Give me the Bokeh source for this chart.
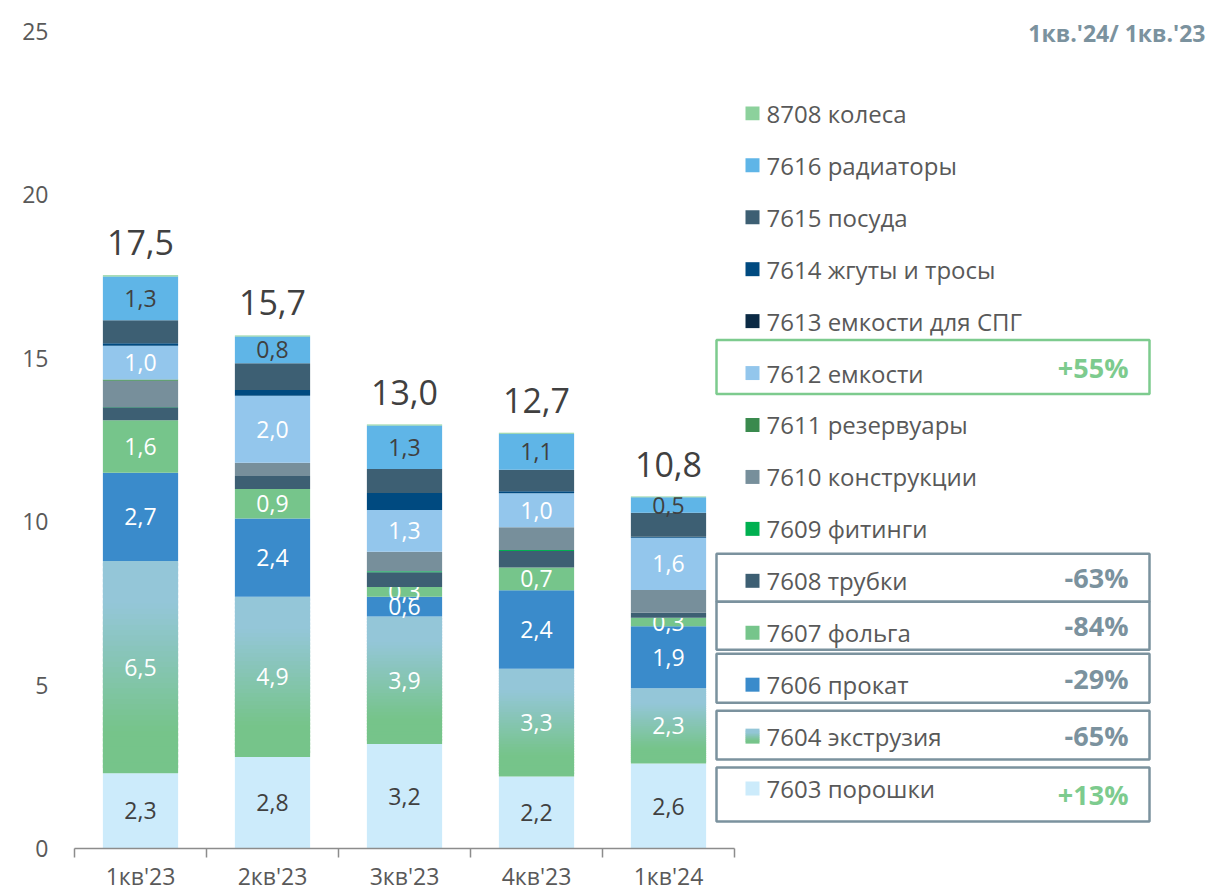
from bokeh.plotting import figure
from bokeh.models import Range1d, FixedTicker, ColumnDataSource
from bokeh.core.properties import value
from bokeh.embed import file_html
from bokeh.resources import INLINE

# ---------------- data ----------------
categories = ["1кв'23", "2кв'23", "3кв'23", "4кв'23", "1кв'24"]

v7603 = [2.3, 2.8, 3.2, 2.2, 2.6]
v7604 = [6.5, 4.9, 3.9, 3.3, 2.3]
v7606 = [2.7, 2.4, 0.6, 2.4, 1.9]
v7607 = [1.6, 0.9, 0.3, 0.7, 0.26]
v7608 = [0.4, 0.4, 0.45, 0.5, 0.15]
v7609 = [0.01, 0.0, 0.03, 0.03, 0.0]
v7610 = [0.8, 0.4, 0.6, 0.7, 0.7]
v7611 = [0.04, 0.0, 0.0, 0.0, 0.0]
v7612 = [1.03, 2.05, 1.28, 1.04, 1.6]
v7613 = [0.0, 0.0, 0.0, 0.0, 0.0]
v7614 = [0.08, 0.18, 0.52, 0.06, 0.03]
v7615 = [0.7, 0.82, 0.73, 0.66, 0.73]
v7616 = [1.34, 0.82, 1.33, 1.1, 0.48]
v8708 = [0.04, 0.03, 0.03, 0.03, 0.02]

series_names = ["7603 порошки", "7604 экструзия", "7606 прокат", "7607 фольга",
                "7608 трубки", "7609 фитинги", "7610 конструкции", "7611 резервуары",
                "7612 емкости", "7613 емкости для СПГ", "7614 жгуты и тросы",
                "7615 посуда", "7616 радиаторы", "8708 колеса"]
series_values = [v7603, v7604, v7606, v7607, v7608, v7609, v7610, v7611,
                 v7612, v7613, v7614, v7615, v7616, v8708]
series_colors = ["#CCEBFB", "#86C4B2", "#3A8BCB", "#76C58B", "#3D5F73", "#00B050",
                 "#778F9B", "#3A8A4E", "#93C6EC", "#0B2A45", "#004A80",
                 "#3D5F73", "#5FB5E7", "#8CD19C"]
label_series = {"7603 порошки": "#404040", "7604 экструзия": "white",
                "7606 прокат": "white", "7607 фольга": "white",
                "7612 емкости": "white", "7616 радиаторы": "#404040"}

grad_top = (0x94, 0xC6, 0xD8)
grad_bottom = (0x76, 0xC4, 0x8A)

# change 1кв.'24 / 1кв.'23
change_series = ["7612 емкости", "7608 трубки", "7607 фольга", "7606 прокат",
                 "7604 экструзия", "7603 порошки"]
change_labels = ["+55%", "-63%", "-84%", "-29%", "-65%", "+13%"]
highlight_box = ["7612 емкости"]

FONT = "Open Sans"
TEXT = "#595959"
GREY = "#7B929E"
GREEN = "#7DCB8E"


def fmt(v):
    return f"{v:.1f}".replace(".", ",")


def grad_color(f):
    t = min(max((f - 0.2) / 0.6, 0.0), 1.0)
    c = [round(b + (a - b) * t) for a, b in zip(grad_top, grad_bottom)]
    return "#%02x%02x%02x" % tuple(c)


# ---------------- layout constants (screen px) ----------------
W, H = 1231, 894
LEFT = 74           # frame left
BOTTOM_BORDER = 45  # space for x-axis labels
TOP_TICK_PX = 31    # pixel row of the top y tick (25)
CAT_PX = 132        # pixel width of one category slot

frame_h = H - BOTTOM_BORDER
y_max = 25 * frame_h / (frame_h - TOP_TICK_PX)
x_end = -0.5 + (W - LEFT) / CAT_PX

xs = list(range(len(categories)))
p = figure(width=W, height=H, x_range=Range1d(-0.5, x_end),
           y_range=Range1d(0, y_max), output_backend="svg", toolbar_location=None,
           min_border_left=LEFT, min_border_right=0, min_border_top=0,
           min_border_bottom=BOTTOM_BORDER)
p.extra_x_ranges = {"px": Range1d(LEFT, W)}
p.extra_y_ranges = {"py": Range1d(frame_h, 0)}
p.outline_line_color = None
p.grid.visible = False
p.background_fill_color = "white"
p.border_fill_color = "white"

BAR_W = 0.57
bottoms = [0.0] * len(categories)
for name, vals, col in zip(series_names, series_values, series_colors):
    tops = [b + v for b, v in zip(bottoms, vals)]
    if name == "7604 экструзия":
        n = 40
        for k in range(n):
            sb = [b + (t - b) * k / n for b, t in zip(bottoms, tops)]
            st = [b + (t - b) * min(k + 1.6, n) / n for b, t in zip(bottoms, tops)]
            p.vbar(x=xs, bottom=sb, top=st, width=BAR_W,
                   fill_color=grad_color((k + 0.5) / n), line_color=None)
    else:
        p.vbar(x=xs, bottom=bottoms, top=tops, width=BAR_W, fill_color=col,
               line_color=None)
    if name in label_series:
        src = ColumnDataSource(dict(x=xs, y=[(b + t) / 2 for b, t in zip(bottoms, tops)],
                                    t=[fmt(v) for v in vals]))
        p.text(x="x", y="y", text="t", source=src, text_align="center",
               text_baseline="middle", text_color=label_series[name],
               text_font=value(FONT), text_font_size="23px")
    bottoms = tops

totals = bottoms
tsrc = ColumnDataSource(dict(x=xs, y=totals, t=[fmt(v) for v in totals]))
p.text(x="x", y="y", text="t", source=tsrc, text_align="center",
       text_baseline="bottom", y_offset=-20, text_color="#404040",
       text_font=value(FONT), text_font_size="34px")

p.yaxis.ticker = FixedTicker(ticks=[0, 5, 10, 15, 20, 25])
p.yaxis.axis_line_color = None
p.yaxis.major_tick_line_color = None
p.yaxis.minor_tick_line_color = None
p.yaxis.major_tick_out = 0
p.yaxis.major_label_standoff = 26
p.yaxis.major_label_text_color = TEXT
p.yaxis.major_label_text_font = FONT
p.yaxis.major_label_text_font_size = "23px"

p.xaxis.bounds = (-0.5, len(categories) - 0.5)
p.xaxis.ticker = FixedTicker(ticks=xs, minor_ticks=[x - 0.5 for x in xs] + [xs[-1] + 0.5])
p.xaxis.major_label_overrides = {i: c for i, c in enumerate(categories)}
p.xaxis.axis_line_color = "#8C8C8C"
p.xaxis.axis_line_width = 1.5
p.xaxis.major_tick_line_color = None
p.xaxis.major_tick_out = 0
p.xaxis.major_tick_in = 0
p.xaxis.minor_tick_line_color = "#8C8C8C"
p.xaxis.minor_tick_line_width = 1.5
p.xaxis.minor_tick_out = 9
p.xaxis.minor_tick_in = 0
p.xaxis.major_label_standoff = 2
p.xaxis.major_label_text_color = TEXT
p.xaxis.major_label_text_font = FONT
p.xaxis.major_label_text_font_size = "23px"

# ---------------- legend panel (pixel coordinates via extra ranges) ----------------
R = dict(x_range_name="px", y_range_name="py")
ROW0, STEP = 113, 52
legend_order = list(reversed(series_names))
legend_colors = list(reversed(series_colors))
row_y = {name: ROW0 + STEP * i for i, name in enumerate(legend_order)}

SQ_X, SQ = 752, 14
for name, col in zip(legend_order, legend_colors):
    y = row_y[name]
    if name == "7604 экструзия":
        n = 7
        for k in range(n):
            p.quad(left=SQ_X - SQ / 2, right=SQ_X + SQ / 2,
                   bottom=y + SQ / 2 - SQ * k / n, top=y + SQ / 2 - SQ * (k + 1.5) / n,
                   fill_color=grad_color((k + 0.5) / n), line_color=None, **R)
    else:
        p.rect(x=SQ_X, y=y, width=SQ, height=SQ, fill_color=col, line_color=None, **R)

lsrc = ColumnDataSource(dict(x=[766] * len(legend_order),
                             y=[row_y[n] for n in legend_order], t=legend_order))
p.text(x="x", y="y", text="t", source=lsrc, text_align="left", text_baseline="middle",
       text_color=TEXT, text_font=value(FONT), text_font_size="24px", **R)

# boxes (top, bottom offsets relative to row)
box_offsets = {"7612 емкости": (-33, 21), "7608 трубки": (-27, 21), "7607 фольга": (-31, 17),
               "7606 прокат": (-31, 18), "7604 экструзия": (-26, 23), "7603 порошки": (-21, 33)}
for name, lab in zip(change_series, change_labels):
    y = row_y[name]
    tcol = GREEN if lab.startswith("+") else GREY
    bcol = GREEN if name in highlight_box else GREY
    t_off, b_off = box_offsets[name]
    p.quad(left=716, right=1149, top=y + t_off, bottom=y + b_off, fill_color=None,
           line_color=bcol, line_width=2.5, **R)
    p.text(x=[1128], y=[y + (t_off + b_off) / 2], text=[lab], text_align="right",
           text_baseline="middle", text_color=tcol, text_font=value(FONT),
           text_font_size="27px", text_font_style="bold", **R)

p.text(x=[1205], y=[33], text=["1кв.'24/ 1кв.'23"], text_align="right",
       text_baseline="middle", text_color=GREY, text_font=value(FONT),
       text_font_size="23px", text_font_style="bold", **R)

open("out.html", "w").write(file_html(p, INLINE))
